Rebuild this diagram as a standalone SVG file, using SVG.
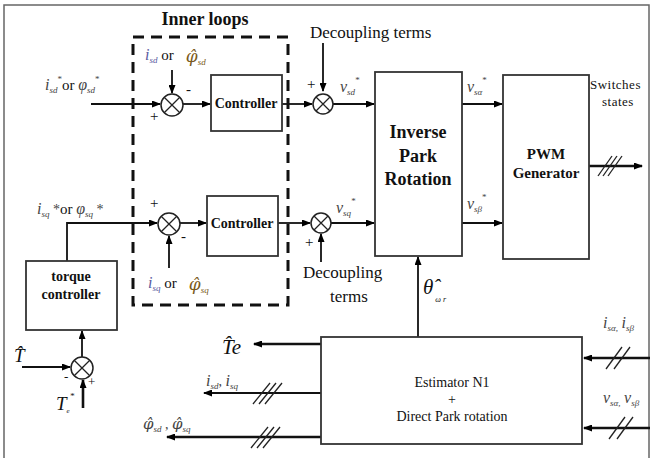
<svg xmlns="http://www.w3.org/2000/svg" width="652" height="458" viewBox="0 0 652 458" font-family="'Liberation Serif', 'DejaVu Serif', serif">
<defs>
<marker id="ah" markerWidth="9" markerHeight="7" refX="8" refY="3.5" orient="auto" markerUnits="userSpaceOnUse">
<path d="M0,0 L9,3.5 L0,7 z" fill="#000"/>
</marker>
<style>
.ln{stroke:#111;stroke-width:1.8;fill:none}
.bl{stroke:#111;stroke-width:2.6;fill:none}
.bx{stroke:#333;stroke-width:1.8;fill:#fff}
.sum{stroke:#222;stroke-width:1.5;fill:#fff}
.sl{stroke:#222;stroke-width:1.3}
text{font-family:'Liberation Serif','DejaVu Serif',serif;fill:#111}
.it{font-style:italic}
.lbl{font-size:16px;fill:#444}
.bold{font-weight:bold}
.sub{font-size:9px}
.dv{font-family:'DejaVu Serif',serif}
</style>
</defs>
<rect x="4" y="5" width="645" height="470" fill="#fff" stroke="#666" stroke-width="1.5"/>

<g id="inner-loops">
<rect x="133" y="37" width="155" height="268" fill="none" stroke="#111" stroke-width="3" stroke-dasharray="11,7"/>
<text x="205" y="25" text-anchor="middle" font-size="18" class="bold">Inner loops</text>
</g>

<g id="connectors">
<line class="ln" x1="91" y1="104" x2="160" y2="104" marker-end="url(#ah)"/>
<line class="ln" x1="172" y1="70" x2="172" y2="93" marker-end="url(#ah)"/>
<line class="ln" x1="183" y1="104" x2="210" y2="104" marker-end="url(#ah)"/>
<line class="ln" x1="282" y1="104" x2="312" y2="104" marker-end="url(#ah)"/>
<line class="ln" x1="323" y1="43" x2="323" y2="91" marker-end="url(#ah)"/>
<line class="ln" x1="333" y1="104" x2="374" y2="104" marker-end="url(#ah)"/>
<line class="ln" x1="462" y1="104" x2="502" y2="104" marker-end="url(#ah)"/>
<line class="bl" x1="589" y1="166" x2="642" y2="166" marker-end="url(#ah)"/>
<line class="sl" x1="598" y1="176" x2="612" y2="156"/>
<line class="sl" x1="603" y1="176" x2="617" y2="156"/>
<line class="sl" x1="608" y1="176" x2="622" y2="156"/>
<polyline class="ln" points="67,261 67,223 157,223" marker-end="url(#ah)"/>
<line class="ln" x1="169" y1="268" x2="169" y2="236" marker-end="url(#ah)"/>
<line class="ln" x1="180" y1="223" x2="206" y2="223" marker-end="url(#ah)"/>
<line class="ln" x1="278" y1="223" x2="310" y2="223" marker-end="url(#ah)"/>
<line class="ln" x1="321" y1="262" x2="321" y2="234" marker-end="url(#ah)"/>
<line class="ln" x1="331" y1="223" x2="374" y2="223" marker-end="url(#ah)"/>
<line class="ln" x1="462" y1="223" x2="502" y2="223" marker-end="url(#ah)"/>
<line class="ln" x1="418" y1="337" x2="418" y2="257" marker-end="url(#ah)"/>
<line class="ln" x1="82" y1="357" x2="82" y2="331" marker-end="url(#ah)"/>
<line class="ln" x1="22" y1="367" x2="70" y2="367" marker-end="url(#ah)"/>
<line class="bl" x1="83" y1="408" x2="83" y2="380" marker-end="url(#ah)"/>
<line class="bl" x1="321" y1="344" x2="254" y2="344" marker-end="url(#ah)"/>
<line class="ln" x1="321" y1="393" x2="204" y2="393" marker-end="url(#ah)"/>
<line class="sl" x1="253" y1="404" x2="270" y2="383"/>
<line class="sl" x1="259" y1="404" x2="276" y2="383"/>
<line class="sl" x1="265" y1="404" x2="282" y2="383"/>
<line class="bl" x1="321" y1="437" x2="167" y2="437" marker-end="url(#ah)"/>
<line class="sl" x1="251" y1="448" x2="268" y2="427"/>
<line class="sl" x1="257" y1="448" x2="274" y2="427"/>
<line class="sl" x1="263" y1="448" x2="280" y2="427"/>
<line class="bl" x1="650" y1="358" x2="584" y2="358" marker-end="url(#ah)"/>
<line class="sl" x1="606" y1="369" x2="622" y2="347"/>
<line class="sl" x1="614" y1="369" x2="630" y2="347"/>
<line class="bl" x1="650" y1="428" x2="584" y2="428" marker-end="url(#ah)"/>
<line class="sl" x1="609" y1="439" x2="625" y2="417"/>
<line class="sl" x1="617" y1="439" x2="633" y2="417"/>
</g>

<g id="sum1">
<circle class="sum" cx="172" cy="105" r="11"/>
<path class="sl" d="M164.2,97.2 L179.8,112.8 M179.8,97.2 L164.2,112.8"/>
<text x="186" y="94" font-size="15">-</text>
<text x="150" y="121" font-size="15">+</text>
</g>
<g id="sum2">
<circle class="sum" cx="323" cy="104" r="10"/>
<path class="sl" d="M316,97 L330,111 M330,97 L316,111"/>
<text x="307" y="89" font-size="15">+</text>
</g>
<g id="sum3">
<circle class="sum" cx="169" cy="224" r="11"/>
<path class="sl" d="M161.2,216.2 L176.8,231.8 M176.8,216.2 L161.2,231.8"/>
<text x="150" y="208" font-size="15">+</text>
<text x="181" y="241" font-size="15">-</text>
</g>
<g id="sum4">
<circle class="sum" cx="321" cy="223" r="10"/>
<path class="sl" d="M314,216 L328,230 M328,216 L314,230"/>
<text x="305" y="247" font-size="15">+</text>
</g>
<g id="sum5">
<circle class="sum" cx="82" cy="368" r="11"/>
<path class="sl" d="M74.2,360.2 L89.8,375.8 M89.8,360.2 L74.2,375.8"/>
<text x="64" y="381" font-size="13">-</text>
<text x="88" y="386" font-size="13">+</text>
</g>

<g id="controller1">
<rect class="bx" x="211" y="75" width="71" height="56"/>
<text x="246" y="108" text-anchor="middle" font-size="14" class="bold">Controller</text>
</g>
<g id="controller2">
<rect class="bx" x="207" y="196" width="71" height="60"/>
<text x="242" y="228" text-anchor="middle" font-size="14" class="bold">Controller</text>
</g>
<g id="inverse-park">
<rect class="bx" x="375" y="72" width="87" height="184"/>
<text x="418" y="138" text-anchor="middle" font-size="18" class="bold">Inverse</text>
<text x="418" y="162" text-anchor="middle" font-size="18" class="bold">Park</text>
<text x="418" y="185" text-anchor="middle" font-size="18" class="bold">Rotation</text>
</g>
<g id="pwm">
<rect class="bx" x="503" y="75" width="86" height="184"/>
<text x="546" y="159" text-anchor="middle" font-size="15" class="bold">PWM</text>
<text x="546" y="178" text-anchor="middle" font-size="15" class="bold">Generator</text>
</g>
<g id="torque-controller">
<rect class="bx" x="26" y="261" width="91" height="69"/>
<text x="71" y="281" text-anchor="middle" font-size="14" class="bold">torque</text>
<text x="71" y="299" text-anchor="middle" font-size="14" class="bold">controller</text>
</g>
<g id="estimator">
<rect class="bx" x="321" y="337" width="261" height="107"/>
<text x="452" y="387" text-anchor="middle" font-size="14">Estimator N1</text>
<text x="452" y="404" text-anchor="middle" font-size="14">+</text>
<text x="452" y="421" text-anchor="middle" font-size="14">Direct Park rotation</text>
</g>

<g id="labels">
<text x="45" y="90" class="lbl"><tspan class="it">i</tspan><tspan class="sub it" dy="3">sd</tspan><tspan font-size="9" dy="-11">*</tspan><tspan font-size="15" dy="8" fill="#111">or </tspan><tspan class="it">φ</tspan><tspan class="sub it" dy="3">sd</tspan><tspan font-size="9" dy="-11">*</tspan></text>

<text x="145" y="60" font-size="16"><tspan class="it" fill="#5a5aa0">i</tspan><tspan class="sub it" dy="3" fill="#5a5aa0">sd</tspan><tspan font-size="15" dy="-3"> or</tspan><tspan class="it dv" fill="#7a5a20" font-size="17" dx="12" dy="2">φ̂</tspan><tspan class="sub it" fill="#7a5a20" dy="3">sd</tspan></text>

<text x="310" y="38" font-size="17">Decoupling terms</text>
<text x="340" y="92" class="lbl"><tspan class="it">v</tspan><tspan class="sub it" dy="3">sd</tspan><tspan font-size="9" dy="-12">*</tspan></text>
<text x="467" y="92" class="lbl"><tspan class="it">v</tspan><tspan class="sub it" dy="3">sα</tspan><tspan font-size="9" dy="-12">*</tspan></text>
<text x="590" y="89" font-size="13" letter-spacing="0.5">Switches</text>
<text x="602" y="106" font-size="13" letter-spacing="0.5">states</text>

<text x="37" y="214" class="lbl"><tspan class="it">i</tspan><tspan class="sub it" dy="3">sq</tspan><tspan font-size="14" dy="-3"> *</tspan><tspan font-size="15" fill="#111">or </tspan><tspan class="it">φ</tspan><tspan class="sub it" dy="3">sq</tspan><tspan font-size="14" dy="-3"> *</tspan></text>

<text x="148" y="288" font-size="16"><tspan class="it" fill="#5a5aa0">i</tspan><tspan class="sub it" dy="3" fill="#5a5aa0">sq</tspan><tspan font-size="15" dy="-3"> or</tspan><tspan class="it dv" fill="#7a5a20" font-size="17" dx="12" dy="2">φ̂</tspan><tspan class="sub it" fill="#7a5a20" dy="3">sq</tspan></text>

<text x="303" y="278" font-size="17">Decoupling</text>
<text x="330" y="302" font-size="17">terms</text>
<text x="336" y="213" class="lbl"><tspan class="it">v</tspan><tspan class="sub it" dy="3">sq</tspan><tspan font-size="9" dy="-12">*</tspan></text>
<text x="467" y="209" class="lbl"><tspan class="it">v</tspan><tspan class="sub it" dy="3">sβ</tspan><tspan font-size="9" dy="-12">*</tspan></text>

<text x="423" y="294" font-size="21" class="it" fill="#222">θ̂<tspan font-size="8" dx="2" dy="8">ω r</tspan></text>

<text x="14" y="362" font-size="19" class="it">T̂</text>
<text x="56" y="410" font-size="19" class="it">T<tspan font-size="7" dy="3">e</tspan><tspan font-size="9" dy="-14">*</tspan></text>

<text x="222" y="354" font-size="21" class="it">T̂e</text>

<text x="206" y="386" class="lbl"><tspan class="it">i</tspan><tspan class="sub it" dy="3">sd</tspan><tspan font-size="14" dy="-3">, </tspan><tspan class="it">i</tspan><tspan class="sub it" dy="3">sq</tspan></text>

<text x="143" y="429" class="lbl"><tspan class="it dv" font-size="15">φ̂</tspan><tspan class="sub it" dy="3">sd</tspan><tspan font-size="14" dy="-3"> , </tspan><tspan class="it dv" font-size="15">φ̂</tspan><tspan class="sub it" dy="3">sq</tspan></text>

<text x="603" y="328" class="lbl"><tspan class="it">i</tspan><tspan class="sub it" dy="3">sα,</tspan><tspan font-size="14" dy="-3"> </tspan><tspan class="it">i</tspan><tspan class="sub it" dy="3">sβ</tspan></text>
<text x="603" y="403" class="lbl"><tspan class="it">v</tspan><tspan class="sub it" dy="3">sα,</tspan><tspan font-size="14" dy="-3"> </tspan><tspan class="it">v</tspan><tspan class="sub it" dy="3">sβ</tspan></text>
</g>
</svg>
